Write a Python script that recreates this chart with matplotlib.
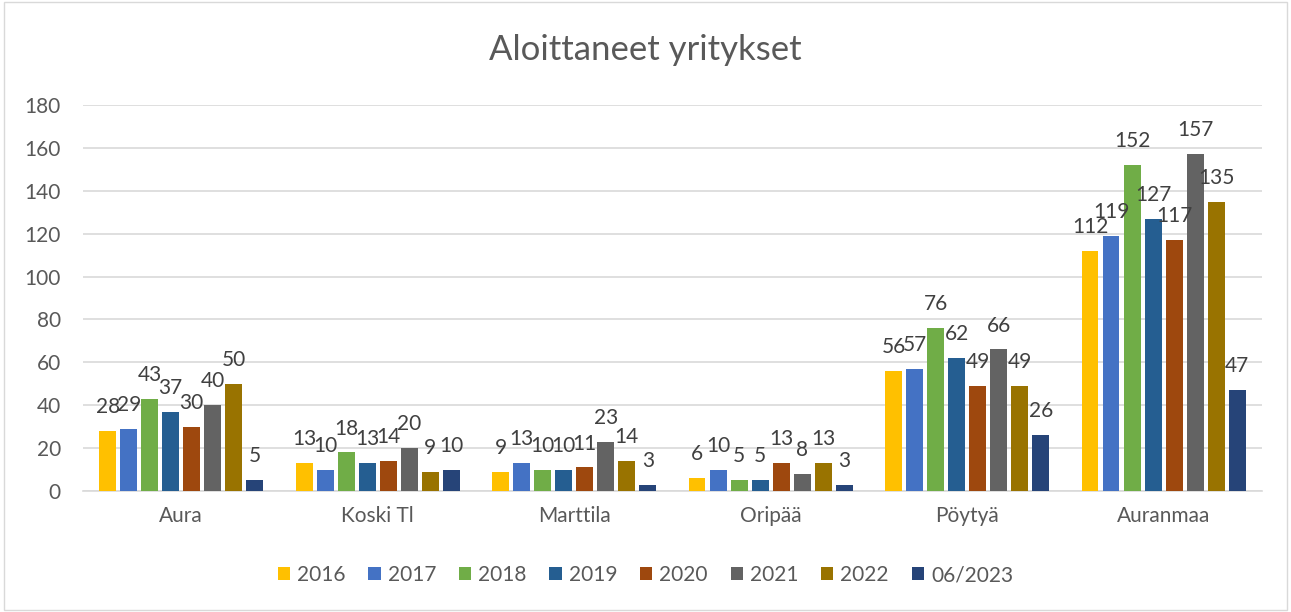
import numpy as np
import matplotlib.pyplot as plt
from matplotlib.patches import Rectangle

regions = ['Aura', 'Koski Tl', 'Marttila', 'Oripää', 'Pöytyä', 'Auranmaa']
years = ['2016', '2017', '2018', '2019', '2020', '2021', '2022', '06/2023']
values = [
    [28, 13, 9, 6, 56, 112],
    [29, 10, 13, 10, 57, 119],
    [43, 18, 10, 5, 76, 152],
    [37, 13, 10, 5, 62, 127],
    [30, 14, 11, 13, 49, 117],
    [40, 20, 23, 8, 66, 157],
    [50, 9, 14, 13, 49, 135],
    [5, 10, 3, 3, 26, 47],
]
colors = ['#FFC000', '#4472C4', '#70AD47', '#255E91',
          '#9E480E', '#636363', '#997300', '#264478']

plt.rcParams['font.family'] = ['Lato', 'DejaVu Sans']

fig = plt.figure(figsize=(12.91, 6.12), dpi=100)
ax = fig.add_axes([0.0643, 0.1977, 0.9132, 0.6307])

x = np.arange(len(regions))
step = 0.107
width = 0.085
for i, (yr, vals) in enumerate(zip(years, values)):
    pos = x + (i - 3.5) * step
    bars = ax.bar(pos, vals, width, color=colors[i], label=yr, zorder=3)
    texts = ax.bar_label(bars, labels=[str(v) for v in vals], padding=10,
                         fontsize=15, color='#404040')
    for t in texts:
        t.set_zorder(6)

ax.set_xlim(-0.5, len(regions) - 0.5)
ax.set_ylim(0, 180)
ax.set_yticks(range(0, 181, 20))
ax.set_xticks(x)
ax.set_xticklabels(regions)
ax.tick_params(axis='both', length=0, labelsize=15, colors='#595959')
ax.tick_params(axis='x', pad=11)
ax.tick_params(axis='y', pad=16)
ax.grid(axis='y', color='#d9d9d9', linewidth=1.2, zorder=0)
for s in ['top', 'right', 'left']:
    ax.spines[s].set_visible(False)
ax.spines['bottom'].set_color('#d9d9d9')
ax.spines['bottom'].set_linewidth(1.2)

fig.text(0.5, 0.918, 'Aloittaneet yritykset', ha='center', va='center',
         fontsize=25, color='#595959')

fig.legend(loc='center', bbox_to_anchor=(0.5, 0.06), ncol=8, frameon=False,
           fontsize=15, handlelength=0.58, handleheight=0.58, handletextpad=0.34,
           columnspacing=1.1, labelcolor='#595959')

fig.patches.append(Rectangle((0.003, 0.003), 0.994, 0.994, transform=fig.transFigure,
                             fill=False, edgecolor='#d9d9d9', linewidth=1))

fig.savefig('out.png', dpi=100)
